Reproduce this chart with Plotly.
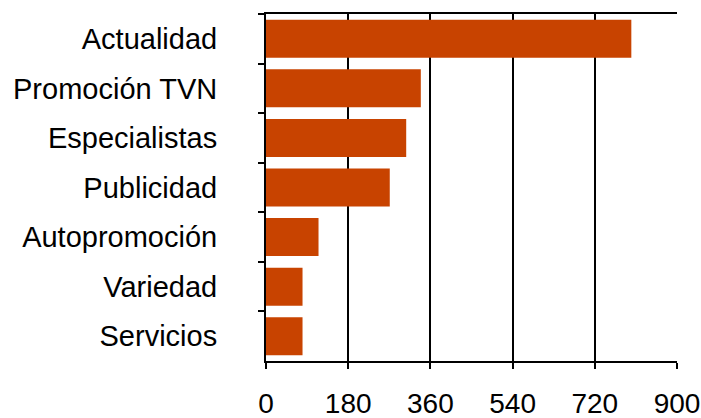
import plotly.graph_objects as go

categories = ["Actualidad", "Promoción TVN", "Especialistas", "Publicidad",
              "Autopromoción", "Variedad", "Servicios"]
values = [800, 339, 307, 271, 115, 80, 80]
x_ticks = [0, 180, 360, 540, 720, 900]

FONT = "Liberation Sans, Helvetica, Arial, sans-serif"

fig = go.Figure(go.Bar(
    y=categories,
    x=values,
    orientation="h",
    marker=dict(color="#C84300", line=dict(width=0)),
    hoverinfo="skip",
))

fig.update_layout(
    template="none",
    width=701, height=418,
    margin=dict(l=266, r=24, t=14, b=57, autoexpand=False),
    paper_bgcolor="white",
    plot_bgcolor="white",
    bargap=0.234,
    showlegend=False,
    font=dict(family=FONT, size=29, color="black"),
)

fig.update_xaxes(
    automargin=False,
    range=[0, 900],
    tickvals=x_ticks,
    ticktext=[str(v) for v in x_ticks],
    showgrid=True, gridcolor="black", gridwidth=2,
    showline=True, linecolor="black", linewidth=2, mirror=True,
    ticks="outside", ticklen=6, tickwidth=2, tickcolor="black",
    ticklabelstandoff=10,
    ticklabeloverflow="allow",
    zeroline=False,
    tickfont=dict(family=FONT, size=28, color="black"),
)

fig.update_yaxes(
    automargin=False,
    autorange="reversed",
    type="category",
    tickson="boundaries",
    showgrid=False,
    showline=True, linecolor="black", linewidth=2,
    ticks="outside", ticklen=6, tickwidth=2, tickcolor="black",
    ticklabelstandoff=41,
    zeroline=False,
    tickfont=dict(family=FONT, size=29, color="black"),
)

fig.write_html(
    "out.html",
    config={"displayModeBar": False},
    post_script="document.body.style.margin='0';document.body.style.overflow='hidden';",
)
